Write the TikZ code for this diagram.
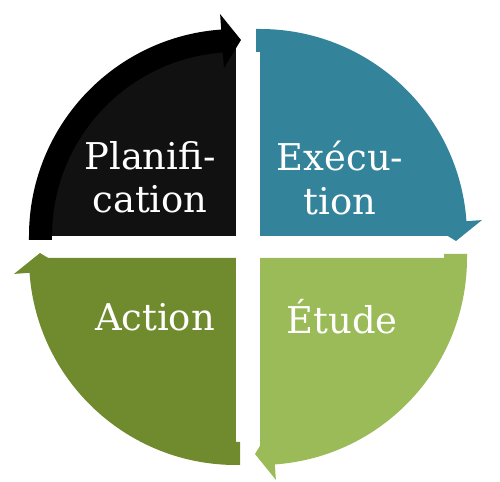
\documentclass[tikz,border=0pt]{standalone}
\usepackage{fontspec}
\setmainfont{DejaVu Serif}
\usepackage{xcolor}
\definecolor{planfill}{HTML}{111111}
\definecolor{planband}{HTML}{000000}
\definecolor{execcol}{HTML}{33849A}
\definecolor{etudecol}{HTML}{9BBB59}
\definecolor{actioncol}{HTML}{6F8B2E}
\tikzset{lbl/.style={text=white,align=center,font=\fontsize{21}{24.5}\selectfont}}

\begin{document}
\begin{tikzpicture}[x=0.02cm,y=0.02cm]
\useasboundingbox (-248,-235) rectangle (252,247);
\foreach \dx/\dy/\rot/\fc/\bc in {-12/11/0/planfill/planband,12/11/-90/execcol/execcol,12/-11/-180/etudecol/etudecol,-12/-11/90/actioncol/actioncol}
{
  \begin{scope}[shift={(\dx,\dy)},rotate=\rot]
    \fill[\fc] (0,0) -- (180:196) arc[start angle=180,end angle=90,radius=196] -- cycle;
    \fill[\bc] (-184,-4) -- (-207,-4) -- (180:207) arc[start angle=180,end angle=94.1,radius=207]
      -- (94.1:222.5) -- (5,196) -- (94.1:168.5) -- (94.1:184) arc[start angle=94.1,end angle=180,radius=184] -- cycle;
  \end{scope}
}
\node[lbl] (plan) at (-98,70) {Planifi-\\cation};
\node[lbl] (exec) at (92,69) {Exécu-\\tion};
\node[lbl] (etude) at (94,-70) {Étude};
\node[lbl] (action) at (-93,-70) {Action};
\end{tikzpicture}
\end{document}
